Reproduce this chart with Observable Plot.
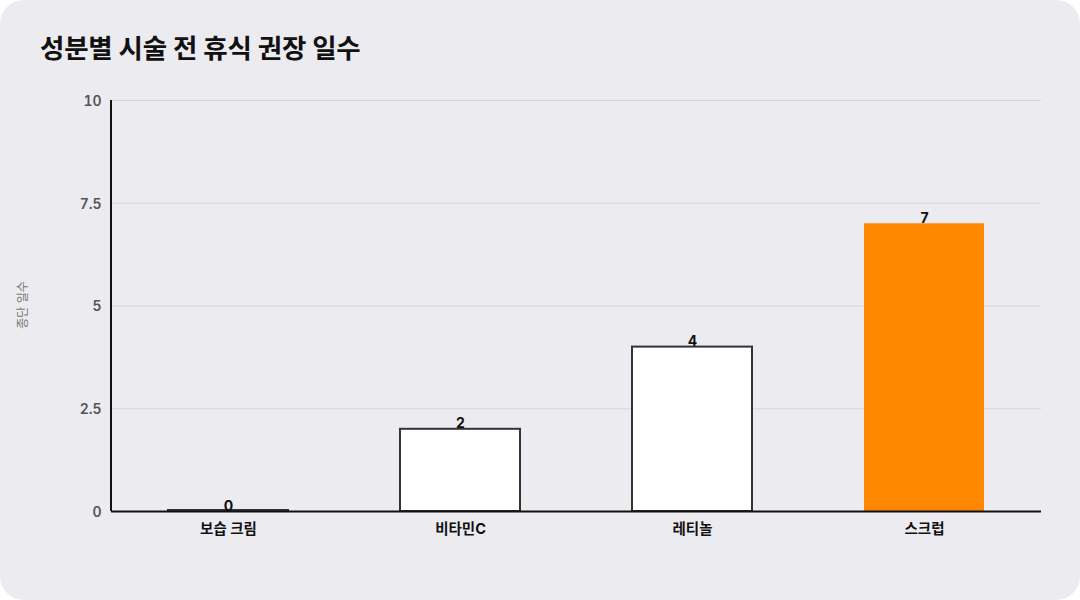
<!DOCTYPE html>
<html><head><meta charset="utf-8">
<script src="https://cdn.jsdelivr.net/npm/d3@7"></script>
<script src="https://cdn.jsdelivr.net/npm/@observablehq/plot@0.6"></script>
<style>
html,body{margin:0;padding:0;background:#ffffff;}
#card{position:relative;width:1080px;height:600px;background:#ecebf0;border-radius:24px;overflow:hidden;font-family:Inter,"Noto Sans CJK KR",sans-serif;}
#title{position:absolute;left:40px;top:27px;font-size:26.5px;font-weight:700;color:#111;letter-spacing:-0.2px;}
#ylab{position:absolute;left:21px;top:305px;transform:translate(-50%,-50%) rotate(-90deg);font-size:12px;color:#777;white-space:nowrap;}
#chart{position:absolute;left:0;top:80px;}
</style></head>
<body>
<div id="card">
<div id="title">성분별 시술 전 휴식 권장 일수</div>
<div id="ylab">종단 일수</div>
<div id="chart"></div>
</div>
<script>
const categories = ["보습 크림", "비타민C", "레티놀", "스크럽"];
const values = [0, 2, 4, 7];
const fills = ["#ffffff", "#ffffff", "#ffffff", "#ff8800"];
const strokes = ["#333333", "#333333", "#333333", "none"];
const yTicks = [0, 2.5, 5, 7.5, 10];

const data = categories.map((c, i) => ({cat: c, v: values[i], fill: fills[i], stroke: strokes[i]}));

const plot = Plot.plot({
  width: 1080,
  height: 470,
  marginTop: 20,
  marginBottom: 39,
  marginLeft: 111,
  marginRight: 39,
  style: {background: "transparent", fontFamily: "Inter, 'Noto Sans CJK KR', sans-serif"},
  x: {domain: categories, paddingInner: 0.484, paddingOuter: 0.24, label: null},
  y: {domain: [0, 10], label: null},
  marks: [
    Plot.gridY(yTicks, {stroke: "#d6d5dc", strokeOpacity: 1, strokeWidth: 1}),
    Plot.barY(data.filter(d => d.v > 0), {x: "cat", y: "v", fill: d => d.fill, stroke: d => d.stroke, strokeWidth: 2}),
    Plot.barY(data.filter(d => d.v === 0), {x: "cat", y: "v", fill: d => d.fill, stroke: d => d.stroke, strokeWidth: 2, insetTop: -1}),
    Plot.text(data, {x: "cat", y: "v", text: d => String(d.v), lineAnchor: "bottom", dy: -1, fontSize: 14, fontWeight: 700, fill: "#111"}),
    Plot.axisY({ticks: yTicks, tickSize: 0, tickPadding: 10, dy: 1, fontSize: 14, fontWeight: 600, fill: "#555", label: null, tickFormat: d => String(d)}),
    Plot.axisX({tickSize: 0, tickPadding: 12, fontSize: 14.5, fontWeight: 700, fill: "#111", label: null}),
    Plot.ruleY([0], {stroke: "#111", strokeWidth: 2})
  ]
});
document.getElementById("chart").appendChild(plot);
// vertical axis line at left edge of the frame
d3.select(plot).append("line")
  .attr("x1", 111).attr("x2", 111).attr("y1", 20).attr("y2", 431)
  .attr("stroke", "#111").attr("stroke-width", 2);
</script>
</body></html>
